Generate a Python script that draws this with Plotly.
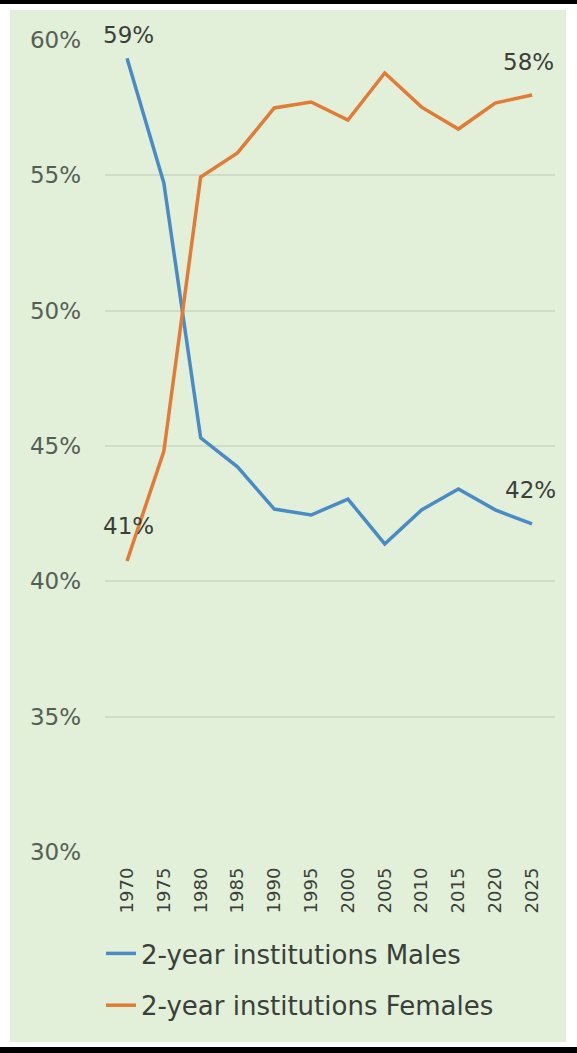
import plotly.graph_objects as go

years = [1970, 1975, 1980, 1985, 1990, 1995, 2000, 2005, 2010, 2015, 2020, 2025]
males = [59.33, 54.72, 45.3, 44.23, 42.67, 42.45, 43.04, 41.38, 42.64, 43.41, 42.64, 42.12]
females = [40.75, 44.8, 54.94, 55.83, 57.49, 57.71, 57.04, 58.78, 57.52, 56.71, 57.67, 57.97]
y_ticks = [30, 35, 40, 45, 50, 55, 60]
y_tick_text = ["30%", "35%", "40%", "45%", "50%", "55%", "60%"]
series_names = ["2-year institutions Males", "2-year institutions Females"]
end_labels = [("59%", 1970, 59.33), ("41%", 1970, 40.75), ("42%", 2025, 42.12), ("58%", 2025, 57.97)]

BG = "#E2EFD9"
BLUE = "#4A8BC6"
ORANGE = "#E27B36"
FONT = "DejaVu Sans"

fig = go.Figure()
fig.add_trace(go.Scatter(x=years, y=males, mode="lines", name=series_names[0],
                         line=dict(color=BLUE, width=3.5), legendgroup="m"))
fig.add_trace(go.Scatter(x=years, y=females, mode="lines", name=series_names[1],
                         line=dict(color=ORANGE, width=3.5), legendgroup="f"))

offsets = {"59%": (1, 23), "41%": (1, 35), "42%": (-2, 34), "58%": (-4, 33)}
for txt, xv, yv in end_labels:
    dx, dy = offsets[txt]
    fig.add_annotation(x=xv, y=yv, text=txt, showarrow=False, xshift=dx, yshift=dy,
                       font=dict(family=FONT, size=23, color="#3A3F3A"))

W, H = 577, 1053
L, R, T, B = 105, 22, 40, 201
pw, ph = W - L - R, H - T - B

def px_x(p):
    return (p - L) / pw

def px_y(p):
    return (H - B - p) / ph

shapes = [
    dict(type="rect", xref="paper", yref="paper", x0=px_x(0), x1=px_x(10), y0=px_y(H), y1=px_y(0),
         fillcolor="white", line=dict(width=0), layer="below"),
    dict(type="rect", xref="paper", yref="paper", x0=px_x(566), x1=px_x(W), y0=px_y(H), y1=px_y(0),
         fillcolor="white", line=dict(width=0), layer="below"),
    dict(type="rect", xref="paper", yref="paper", x0=px_x(0), x1=px_x(W), y0=px_y(10), y1=px_y(0),
         fillcolor="white", line=dict(width=0), layer="below"),
    dict(type="rect", xref="paper", yref="paper", x0=px_x(0), x1=px_x(W), y0=px_y(H), y1=px_y(1042),
         fillcolor="white", line=dict(width=0), layer="below"),
    dict(type="rect", xref="paper", yref="paper", x0=px_x(0), x1=px_x(W), y0=px_y(4), y1=px_y(0),
         fillcolor="black", line=dict(width=0), layer="below"),
    dict(type="rect", xref="paper", yref="paper", x0=px_x(0), x1=px_x(W), y0=px_y(H), y1=px_y(1047),
         fillcolor="black", line=dict(width=0), layer="below"),
]

fig.update_layout(
    width=W, height=H,
    margin=dict(l=L, r=R, t=T, b=B),
    paper_bgcolor=BG, plot_bgcolor=BG,
    shapes=shapes,
    showlegend=True,
    legend=dict(x=px_x(101), y=px_y(930), xanchor="left", yanchor="top",
                orientation="v", traceorder="grouped", tracegroupgap=15,
                bgcolor="rgba(0,0,0,0)",
                font=dict(family=FONT, size=26, color="#3A3F3A")),
    xaxis=dict(range=[1967.01, 2028.12], tickvals=years, ticktext=[str(y) for y in years],
               tickangle=-90, showgrid=False, zeroline=False, showline=False,
               tickfont=dict(family=FONT, size=18, color="#3A3F3A"), ticks="",
               ticklabelstandoff=11),
    yaxis=dict(range=[30, 60], tickvals=y_ticks, ticktext=y_tick_text,
               showgrid=True, gridcolor="#CFDCC6", gridwidth=1.5, zeroline=False, showline=False,
               tickfont=dict(family=FONT, size=23, color="#556055"), ticks="",
               ticklabelstandoff=23),
)

fig.write_html("out.html")
